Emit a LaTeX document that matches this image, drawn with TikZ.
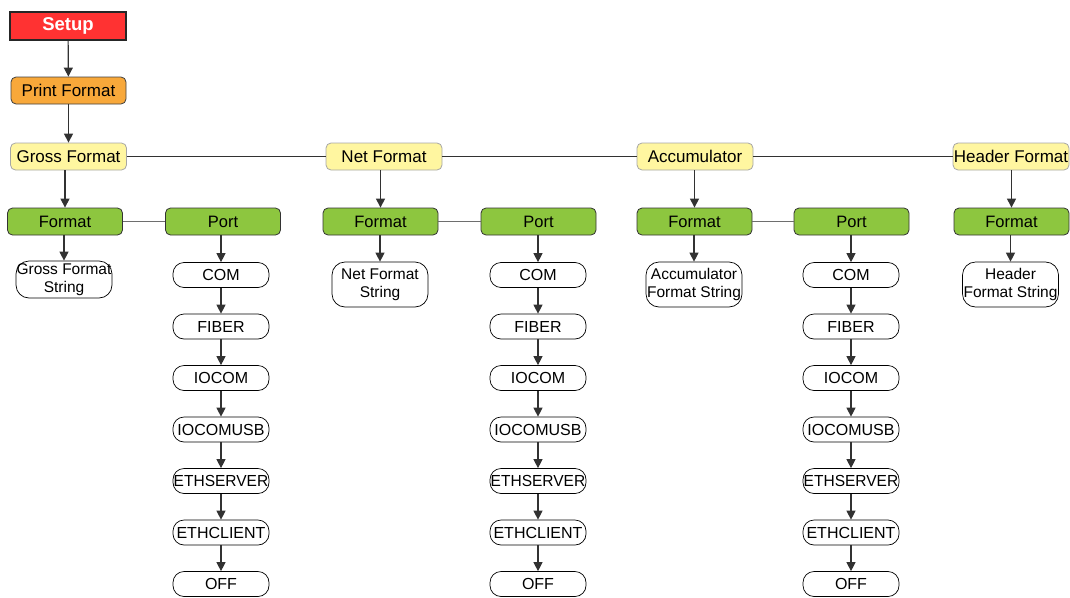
\documentclass[tikz,border=0pt]{standalone}
\usepackage{fontspec}
\setmainfont{Liberation Sans}
\usetikzlibrary{arrows.meta}
\definecolor{setupred}{RGB}{255,50,50}
\definecolor{printorange}{RGB}{248,168,58}
\definecolor{paleyellow}{RGB}{255,246,160}
\definecolor{leafgreen}{RGB}{141,198,63}
\definecolor{linegray}{RGB}{50,50,50}
\definecolor{midgray}{RGB}{110,110,110}
\begin{document}
\begin{tikzpicture}[x=1pt,y=-1pt,
  base/.style={inner sep=0pt, align=center, text=black},
  setupbox/.style={base, draw=black!85, line width=1.6pt, fill=setupred,
    minimum width=116pt, minimum height=28pt,
    font=\fontsize{18.5}{20}\selectfont\bfseries, text=white},
  printbox/.style={base, draw=black!75, line width=0.8pt, rounded corners=5pt,
    fill=printorange, minimum width=115pt, minimum height=27pt,
    font=\fontsize{17}{19}\selectfont},
  topbox/.style={base, draw=black!35, line width=0.8pt, rounded corners=5pt,
    fill=paleyellow, minimum width=116pt, minimum height=27pt,
    font=\fontsize{17}{19}\selectfont},
  greenbox/.style={base, draw=black!80, line width=0.8pt, rounded corners=5pt,
    fill=leafgreen, minimum width=115pt, minimum height=27pt,
    font=\fontsize{16.5}{19}\selectfont},
  strbox/.style={base, draw=black, line width=0.7pt, rounded corners=13pt,
    fill=white, minimum width=96pt,
    font=\fontsize{15.5}{18}\selectfont},
  listbox/.style={base, draw=black, line width=0.7pt, rounded corners=11pt,
    fill=white, minimum width=96pt, minimum height=25pt,
    font=\fontsize{16}{18}\selectfont},
  arr/.style={draw=linegray, line width=1.2pt, -{Triangle[width=9pt,length=9pt]}},
  link/.style={draw=linegray, line width=1pt},
  sidelink/.style={draw=midgray, line width=1.2pt}]
\useasboundingbox (0,0) rectangle (1070,597);

% top chain
\node[setupbox] (setup) at (68,26) {Setup};
\node[printbox] (print) at (68.5,90.5) {Print Format};
\node[topbox] (gross) at (68.5,156.5) {Gross Format};
\node[topbox] (net) at (384,156.5) {Net Format};
\node[topbox] (acc) at (695,156.5) {Accumulator};
\node[topbox] (hdr) at (1011,156.5) {Header Format};

\draw[arr] (setup) -- (print);
\draw[arr] (print) -- (gross);
\draw[link] (gross) -- (net);
\draw[link] (net) -- (acc);
\draw[link] (acc) -- (hdr);

% format / port row
\node[greenbox] (f1) at (65,221.5) {Format};
\node[greenbox] (P1) at (223,221.5) {Port};
\node[greenbox] (f2) at (380.5,221.5) {Format};
\node[greenbox] (P2) at (538.5,221.5) {Port};
\node[greenbox] (f3) at (694.5,221.5) {Format};
\node[greenbox] (P3) at (851.5,221.5) {Port};
\node[greenbox] (f4) at (1011.5,221.5) {Format};

\draw[arr] (f1.north |- gross.south) -- (f1.north);
\draw[arr] (f2.north |- net.south) -- (f2.north);
\draw[arr] (f3.north |- acc.south) -- (f3.north);
\draw[arr] (f4.north |- hdr.south) -- (f4.north);
\draw[sidelink] (f1) -- (P1);
\draw[sidelink] (f2) -- (P2);
\draw[sidelink] (f3) -- (P3);

% format strings
\node[strbox, minimum height=37pt] (s1) at (64,279.5) {Gross Format\\String};
\node[strbox, minimum height=45pt] (s2) at (380,284.5) {Net Format\\String};
\node[strbox, minimum height=45pt] (s3) at (694,284.5) {Accumulator\\Format String};
\node[strbox, minimum height=45pt] (s4) at (1010.5,284.5) {Header\\Format String};

\draw[arr] (s1.north |- f1.south) -- (s1.north);
\draw[arr] (s2.north |- f2.south) -- (s2.north);
\draw[arr] (s3.north |- f3.south) -- (s3.north);
\draw[arr] (s4.north |- f4.south) -- (s4.north);

% port lists
\foreach \c/\x in {1/221,2/538,3/851}{
  \foreach \t [count=\i] in {COM,FIBER,IOCOM,IOCOMUSB,{\scalebox{0.97}[1]{ETHSERVER}},ETHCLIENT,OFF}{
    \node[listbox] (L\c-\i) at (\x,{275+51.5*(\i-1)}) {\t};
    \ifnum\i>1
      \pgfmathtruncatemacro\j{\i-1}
      \draw[arr] (L\c-\j) -- (L\c-\i);
    \fi
  }
  \draw[arr] (L\c-1.north |- P\c.south) -- (L\c-1.north);
}
\end{tikzpicture}
\end{document}
